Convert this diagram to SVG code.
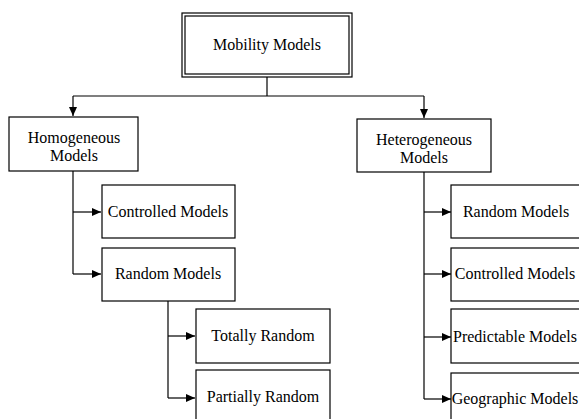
<svg xmlns="http://www.w3.org/2000/svg" width="579" height="419" viewBox="0 0 579 419">
<defs>
<marker id="ah" markerWidth="10" markerHeight="8" refX="9" refY="4" orient="auto" markerUnits="userSpaceOnUse">
<path d="M0,0 L9,4 L0,8 Z" fill="#000"/>
</marker>
<style>
.box{fill:#fff;stroke:#000;stroke-width:1.2}
.t{font-family:"Liberation Serif","Times New Roman",serif;font-size:16px;fill:#000;text-anchor:middle}
.c{fill:none;stroke:#000;stroke-width:1.2}
</style>
</defs>
<rect width="579" height="419" fill="#fff"/>
<g id="connectors">
<path class="c" d="M267,77 V96"/>
<path class="c" d="M73,96 H424"/>
<path class="c" d="M73,96 V116" marker-end="url(#ah)"/>
<path class="c" d="M424,96 V118" marker-end="url(#ah)"/>
<path class="c" d="M73,171 V274"/>
<path class="c" d="M73,212 H101" marker-end="url(#ah)"/>
<path class="c" d="M73,274 H101" marker-end="url(#ah)"/>
<path class="c" d="M168,301 V398"/>
<path class="c" d="M168,336 H195" marker-end="url(#ah)"/>
<path class="c" d="M168,398 H195" marker-end="url(#ah)"/>
<path class="c" d="M424,172 V399"/>
<path class="c" d="M424,212 H451" marker-end="url(#ah)"/>
<path class="c" d="M424,274 H451" marker-end="url(#ah)"/>
<path class="c" d="M424,337 H451" marker-end="url(#ah)"/>
<path class="c" d="M424,399 H451" marker-end="url(#ah)"/>
</g>
<g id="mobility">
<rect class="box" x="182" y="13" width="170" height="64"/>
<rect class="box" x="185" y="16" width="164" height="58" fill="none"/>
<text class="t" x="267" y="50">Mobility Models</text>
</g>
<g id="homogeneous">
<rect class="box" x="9" y="117" width="129" height="54"/>
<text class="t" x="74" y="143">Homogeneous</text>
<text class="t" x="74" y="161">Models</text>
</g>
<g id="heterogeneous">
<rect class="box" x="357" y="119" width="134" height="53"/>
<text class="t" x="424" y="145">Heterogeneous</text>
<text class="t" x="424" y="163">Models</text>
</g>
<g id="hom-controlled">
<rect class="box" x="102" y="185" width="133" height="53"/>
<text class="t" x="168" y="217">Controlled Models</text>
</g>
<g id="hom-random">
<rect class="box" x="102" y="248" width="133" height="53"/>
<text class="t" x="168" y="279">Random Models</text>
</g>
<g id="totally-random">
<rect class="box" x="196" y="309" width="134" height="54"/>
<text class="t" x="263" y="341">Totally Random</text>
</g>
<g id="partially-random">
<rect class="box" x="196" y="370" width="134" height="54"/>
<text class="t" x="263" y="402">Partially Random</text>
</g>
<g id="het-random">
<rect class="box" x="451" y="185" width="134" height="53"/>
<text class="t" x="516" y="217">Random Models</text>
</g>
<g id="het-controlled">
<rect class="box" x="451" y="248" width="134" height="53"/>
<text class="t" x="515" y="279">Controlled Models</text>
</g>
<g id="het-predictable">
<rect class="box" x="451" y="309" width="134" height="54"/>
<text class="t" x="515" y="342">Predictable Models</text>
</g>
<g id="het-geographic">
<rect class="box" x="451" y="373" width="134" height="54"/>
<text class="t" x="515" y="404">Geographic Models</text>
</g>
</svg>
